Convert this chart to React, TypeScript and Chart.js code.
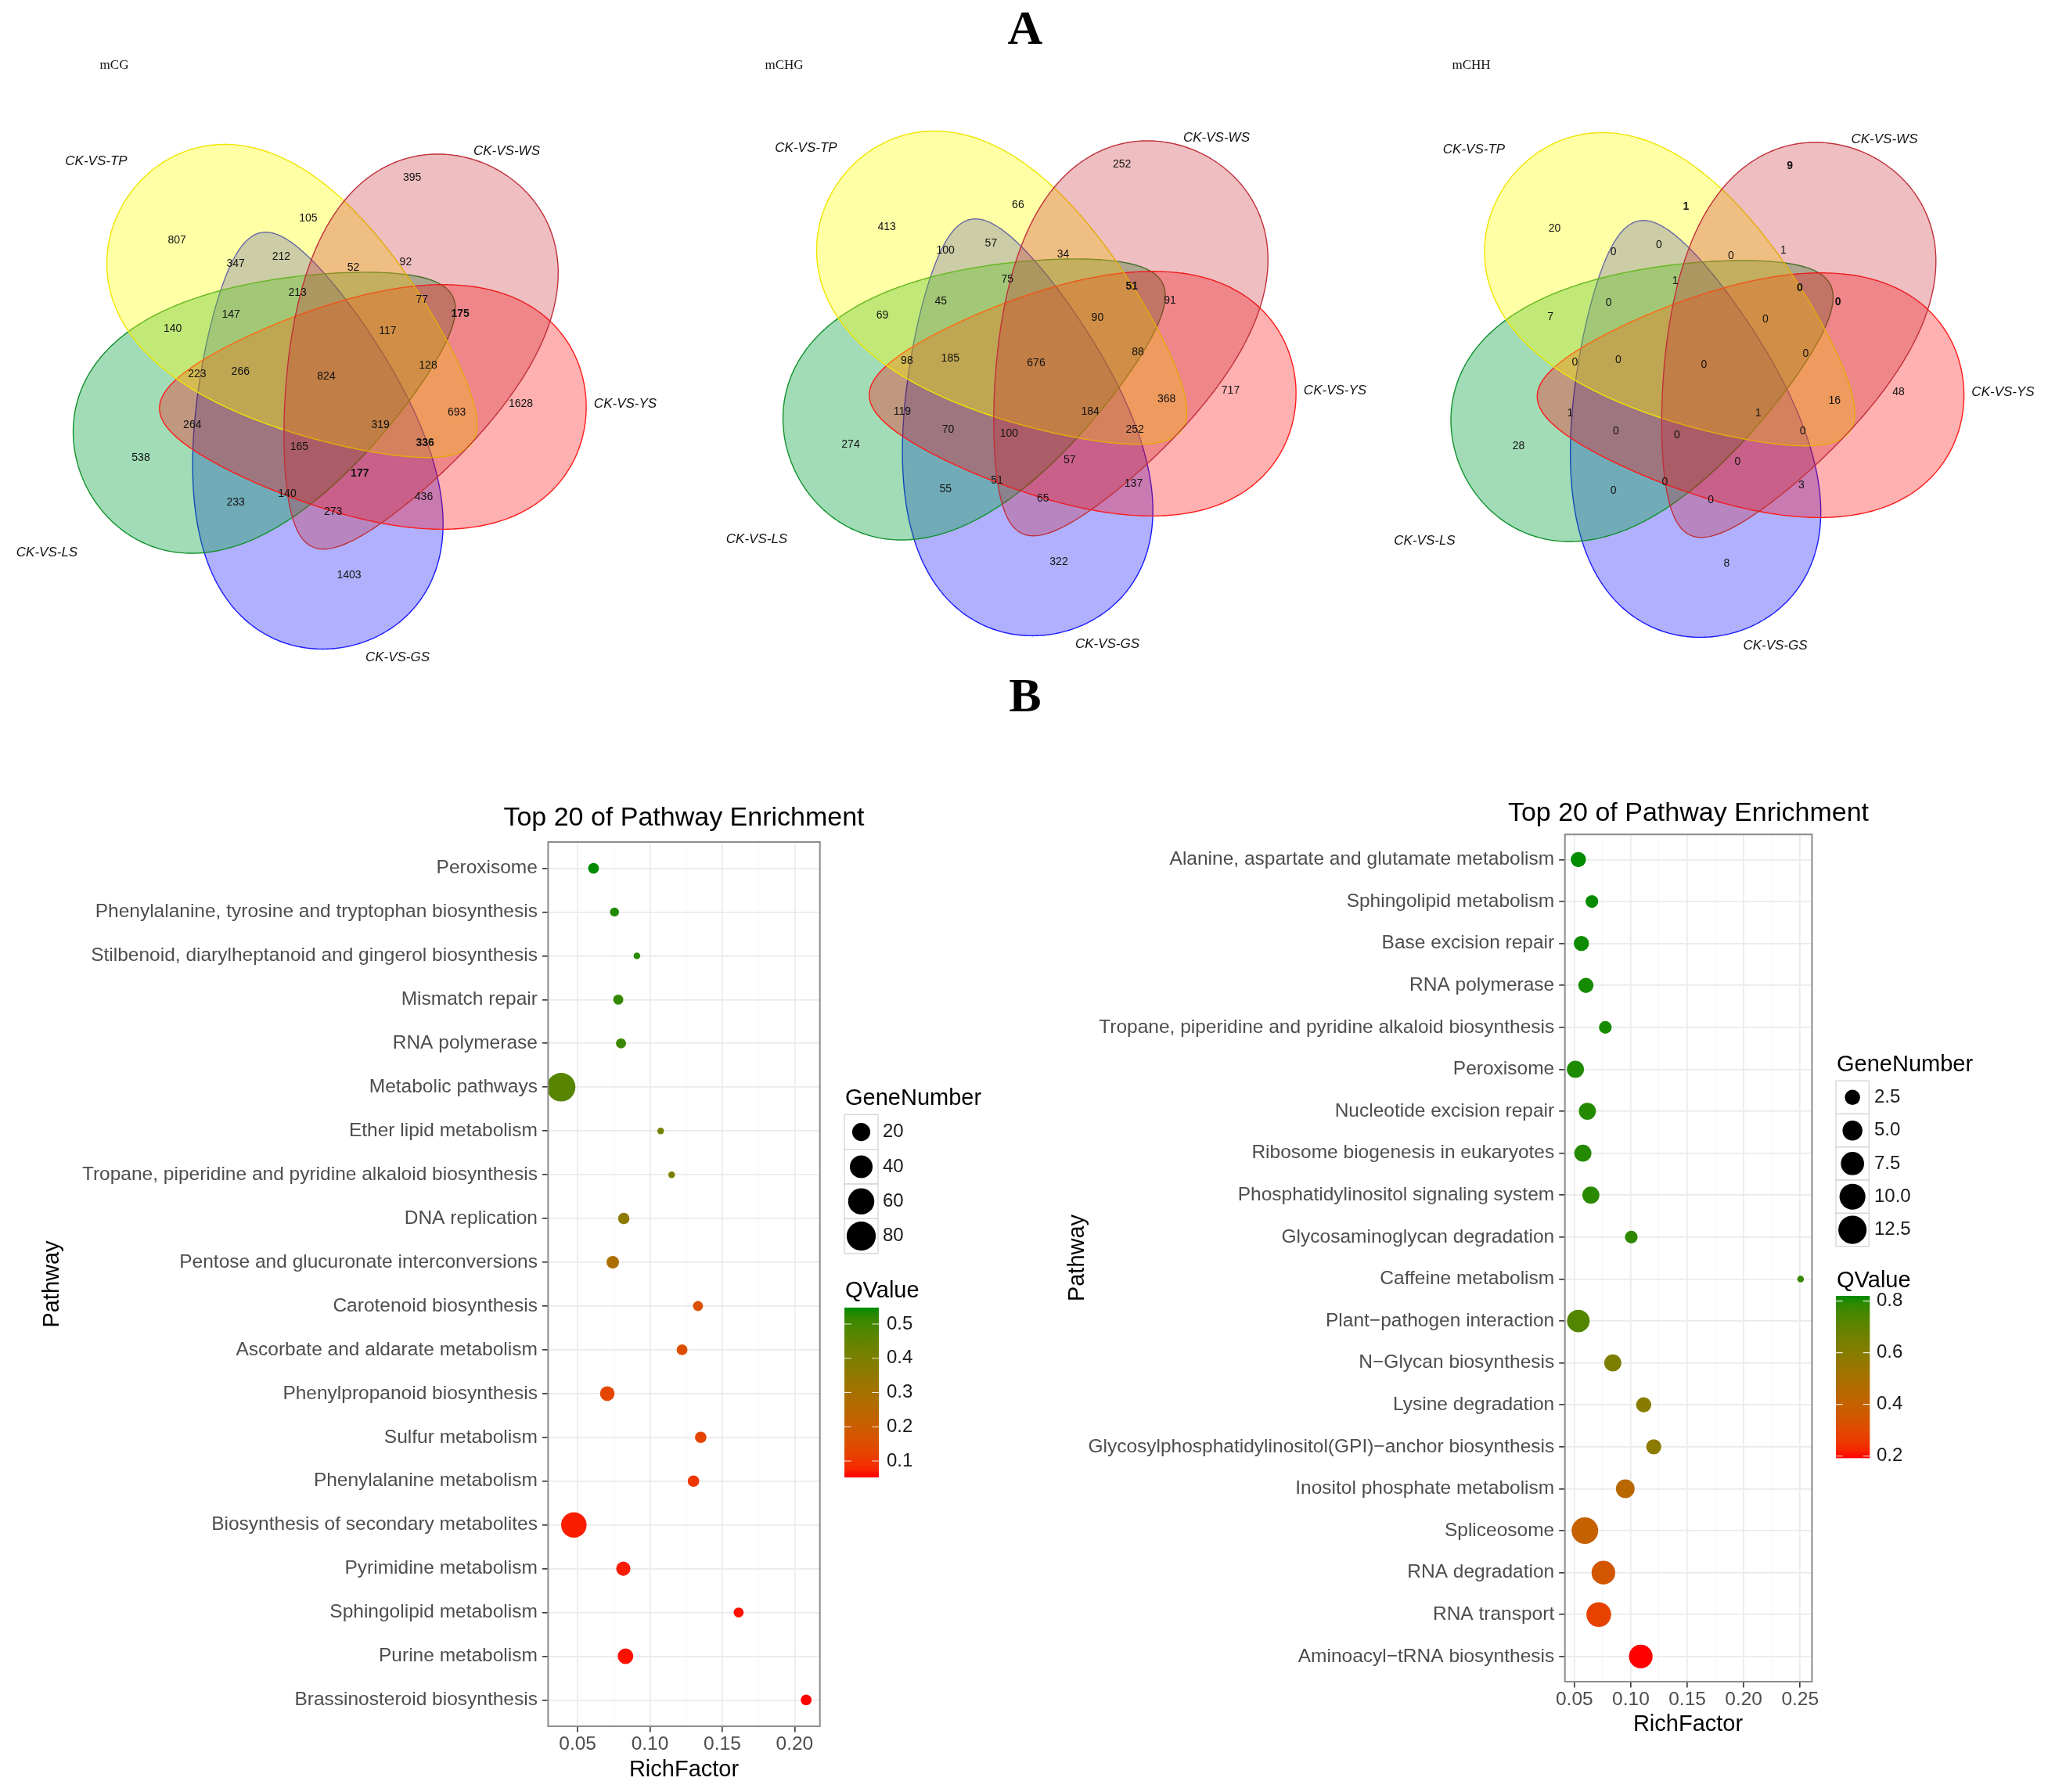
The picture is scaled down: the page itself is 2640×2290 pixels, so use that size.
import React, { useEffect, useRef } from 'react';
import { Chart, registerables } from 'chart.js';

Chart.register(...registerables);

const SANS = '"Liberation Sans", Arial, Helvetica, sans-serif';
const SERIF = '"Liberation Serif", "Times New Roman", Times, serif';

/* ------------------------------------------------------------------ */
/* Panel A : five-set Venn diagrams                                    */
/* ------------------------------------------------------------------ */
const SET_NAMES = ['CK-VS-TP', 'CK-VS-WS', 'CK-VS-YS', 'CK-VS-LS', 'CK-VS-GS'];
const VENN_TITLES = ['mCG', 'mCHG', 'mCHH'];
const REGION_KEYS = [
  'TP', 'WS', 'YS', 'GS', 'LS',
  'TP&WS', 'TP&GS', 'TP&WS&GS', 'TP&WS&LS', 'WS&LS',
  'TP&WS&GS&LS', 'TP&GS&LS', 'TP&LS', 'WS&LS&YS', 'WS&YS',
  'TP&WS&LS&YS', 'TP&LS&YS', 'TP&LS&YS&GS', 'ALL', 'TP&WS&YS',
  'LS&YS', 'TP&YS', 'TP&WS&YS&GS', 'TP&YS&GS', 'LS&YS&GS',
  'WS&YS&GS&LS', 'WS&YS&GS', 'LS&GS', 'LS&GS&WS', 'WS&GS', 'YS&GS',
];
const MCG_COUNTS = [807, 395, 1628, 1403, 538, 105, 347, 212, 52, 92, 213, 147, 140, 77, 175, 117, 223, 266, 824, 128, 264, 693, 319, 336, null, 165, 177, 233, 140, 273, 436];
const MCHG_COUNTS = [413, 252, 717, 322, 274, 66, 100, 57, 34, null, 75, 45, 69, 51, 91, 90, 98, 185, 676, 88, 119, 368, 184, 252, 70, 100, 57, 55, 51, 65, 137];
const MCHH_COUNTS = [20, 9, 48, 8, 28, 1, 0, 0, 0, 1, 1, 0, 7, 0, 0, 0, 0, 0, 0, 0, 1, 16, 1, 0, 0, 0, 0, 0, 0, 0, 3];
const MCG_BOLD = [14, 23, 26];
const MCHG_BOLD = [13];
const MCHH_BOLD = [1, 5, 13, 14];

/* Venn layout (pixels) */
const TOP_W = 2640;
const TOP_H = 930;
const VENN_CENTERS = [[423, 486], [1330, 469], [2183.5, 471]];
const VENN_TITLE_POS = [[146, 84], [1002, 84], [1880, 84]];
const REGION_OFFSETS = [
  [-196.9, -179], [103.7, -258.7], [242.5, 29.7], [23, 249.2], [-243, 99.3],
  [-29.1, -207.1], [-121.8, -148.7], [-63.6, -158.2], [28.5, -143.7], [95.4, -151],
  [-42.8, -111.7], [-127.8, -83.6], [-202.4, -65.7], [116.3, -102.7], [165.1, -85.3],
  [72.4, -62.9], [-171.1, -7.9], [-115.7, -10.7], [-6, -5.1], [124, -18.5],
  [-177.2, 56.7], [160.7, 41], [63.1, 56.7], [120.1, 79.7], [-118.5, 79.7],
  [-40.6, 85.3], [36.8, 119.5], [-121.8, 156.6], [-56, 145.3], [2.7, 167.8], [118.5, 148.7],
];
const SET_LABEL_OFFSETS = [[-300, -280], [224.5, -292.4], [376, 30.3], [-363, 220], [85, 354]];
// egg shapes: narrow tip and round end relative to the venn centre (order TP, WS, YS, LS, GS)
const EGGS = [
  { tip: [179.8, 80.8], end: [-256.5, -239.1] },
  { tip: [-24, 212.7], end: [202, -274.4] },
  { tip: [-219.2, 35.9], end: [326.1, 33.1] },
  { tip: [155, -108], end: [-310.8, 139.4] },
  { tip: [-90, -188.6], end: [22, 340] },
];
const EGG_DRAW_ORDER = [4, 3, 2, 0, 1];
const EGG_R = 146;
const EGG_A = 0.4;
const EGG_B = 0.02;
const SET_FILL = ['rgba(255,255,0,0.35)', 'rgba(200,30,40,0.29)', 'rgba(255,0,0,0.31)', 'rgba(0,160,60,0.37)', 'rgba(0,0,255,0.31)'];
const SET_STROKE = ['#F0E400', '#C0303A', '#FF1A1A', '#12922E', '#1A1AFF'];

/* ------------------------------------------------------------------ */
/* Panel B : KEGG enrichment bubble charts                             */
/* ------------------------------------------------------------------ */
const LEFT_PATHWAYS = [
  'Peroxisome',
  'Phenylalanine, tyrosine and tryptophan biosynthesis',
  'Stilbenoid, diarylheptanoid and gingerol biosynthesis',
  'Mismatch repair',
  'RNA polymerase',
  'Metabolic pathways',
  'Ether lipid metabolism',
  'Tropane, piperidine and pyridine alkaloid biosynthesis',
  'DNA replication',
  'Pentose and glucuronate interconversions',
  'Carotenoid biosynthesis',
  'Ascorbate and aldarate metabolism',
  'Phenylpropanoid biosynthesis',
  'Sulfur metabolism',
  'Phenylalanine metabolism',
  'Biosynthesis of secondary metabolites',
  'Pyrimidine metabolism',
  'Sphingolipid metabolism',
  'Purine metabolism',
  'Brassinosteroid biosynthesis',
];
const LEFT_RICH = [0.061, 0.0755, 0.091, 0.0781, 0.080, 0.0386, 0.1074, 0.115, 0.0819, 0.0743, 0.1332, 0.1222, 0.0705, 0.1351, 0.1301, 0.0474, 0.0816, 0.1613, 0.0831, 0.208];
const LEFT_GENES = [5, 3, 2, 4, 4, 85, 2, 2, 6, 8, 4, 5, 13, 6, 6, 63, 12, 4, 16, 5];
const LEFT_QVALUE = [0.548, 0.535, 0.53, 0.52, 0.51, 0.47, 0.41, 0.40, 0.36, 0.28, 0.16, 0.15, 0.13, 0.13, 0.10, 0.068, 0.065, 0.06, 0.058, 0.052];
const LEFT_X_TICKS = [0.05, 0.10, 0.15, 0.20];
const LEFT_SIZE_BREAKS = [20, 40, 60, 80];
const LEFT_Q_BREAKS = [0.1, 0.2, 0.3, 0.4, 0.5];

const RIGHT_PATHWAYS = [
  'Alanine, aspartate and glutamate metabolism',
  'Sphingolipid metabolism',
  'Base excision repair',
  'RNA polymerase',
  'Tropane, piperidine and pyridine alkaloid biosynthesis',
  'Peroxisome',
  'Nucleotide excision repair',
  'Ribosome biogenesis in eukaryotes',
  'Phosphatidylinositol signaling system',
  'Glycosaminoglycan degradation',
  'Caffeine metabolism',
  'Plant\u2212pathogen interaction',
  'N\u2212Glycan biosynthesis',
  'Lysine degradation',
  'Glycosylphosphatidylinositol(GPI)\u2212anchor biosynthesis',
  'Inositol phosphate metabolism',
  'Spliceosome',
  'RNA degradation',
  'RNA transport',
  'Aminoacyl\u2212tRNA biosynthesis',
];
const RIGHT_RICH = [0.0535, 0.0655, 0.0562, 0.0602, 0.0774, 0.0509, 0.0615, 0.0575, 0.0646, 0.1004, 0.2504, 0.0535, 0.084, 0.1114, 0.1203, 0.0951, 0.0593, 0.0757, 0.0716, 0.1088];
const RIGHT_GENES = [3, 2, 3, 3, 2, 4, 4, 4, 4, 2, 1, 8, 4, 3, 3, 5, 12, 9, 10, 9];
const RIGHT_QVALUE = [0.82, 0.818, 0.815, 0.812, 0.81, 0.805, 0.80, 0.80, 0.795, 0.79, 0.78, 0.73, 0.63, 0.60, 0.58, 0.44, 0.40, 0.35, 0.28, 0.192];
const RIGHT_X_TICKS = [0.05, 0.10, 0.15, 0.20, 0.25];
const RIGHT_SIZE_BREAKS = [2.5, 5, 7.5, 10, 12.5];
const RIGHT_Q_BREAKS = [0.2, 0.4, 0.6, 0.8];

const Q_LOW_COLOR = [255, 0, 0];
const Q_HIGH_COLOR = [0, 139, 0];

type Layout = {
  canvasX: number; canvasY: number; width: number; height: number;
  panel: { l: number; r: number; t: number; b: number };
  xRange: [number, number];
  title: [number, number]; xTitle: [number, number]; yTitle: [number, number];
  size: { titleX: number; titleY: number; keyX: number; keyW: number; keyTop: number; keyH: number; labelX: number; digits: number };
  qbar: { titleX: number; titleY: number; barX: number; barW: number; barTop: number; barBottom: number; labelX: number };
  sizeRange: [number, number];
};

const LEFT_LAYOUT: Layout = {
  canvasX: 0, canvasY: 960, width: 1330, height: 1330,
  panel: { l: 700.4, r: 1047.7, t: 1076, b: 2206 },
  xRange: [0.0296, 0.2175],
  title: [874, 1045.5], xTitle: [874, 2262], yTitle: [66.7, 1641],
  size: { titleX: 1080, titleY: 1403.6, keyX: 1079, keyW: 43, keyTop: 1424.4, keyH: 44.35, labelX: 1128, digits: 0 },
  qbar: { titleX: 1080, titleY: 1650, barX: 1079, barW: 44, barTop: 1671, barBottom: 1888, labelX: 1133 },
  sizeRange: [8.5, 36.5],
};
const RIGHT_LAYOUT: Layout = {
  canvasX: 1330, canvasY: 960, width: 1310, height: 1330,
  panel: { l: 1999.7, r: 2315.4, t: 1066.3, b: 2149 },
  xRange: [0.0416, 0.2605],
  title: [2157.5, 1039.4], xTitle: [2157, 2204], yTitle: [1377, 1607.5],
  size: { titleX: 2347, titleY: 1361.3, keyX: 2346, keyW: 42.3, keyTop: 1381.2, keyH: 42.3, labelX: 2395, digits: 1 },
  qbar: { titleX: 2347, titleY: 1636.9, barX: 2346, barW: 43.3, barTop: 1656, barBottom: 1863.4, labelX: 2398 },
  sizeRange: [8.5, 34],
};

/* ------------------------------------------------------------------ */
/* helpers                                                             */
/* ------------------------------------------------------------------ */
function lin(c: number) { const v = c / 255; return v <= 0.04045 ? v / 12.92 : Math.pow((v + 0.055) / 1.055, 2.4); }
function unlin(v: number) { const c = Math.min(1, Math.max(0, v)); const s = c <= 0.0031308 ? 12.92 * c : 1.055 * Math.pow(c, 1 / 2.4) - 0.055; return Math.round(s * 255); }
function toLab(rgb: number[]) {
  const [r, g, b] = rgb.map(lin);
  const X = (0.4124 * r + 0.3576 * g + 0.1805 * b) / 0.95047;
  const Y = 0.2126 * r + 0.7152 * g + 0.0722 * b;
  const Z = (0.0193 * r + 0.1192 * g + 0.9505 * b) / 1.08883;
  const f = (t: number) => (t > 216 / 24389 ? Math.cbrt(t) : ((24389 / 27) * t + 16) / 116);
  const fx = f(X), fy = f(Y), fz = f(Z);
  return [116 * fy - 16, 500 * (fx - fy), 200 * (fy - fz)];
}
function fromLab(lab: number[]) {
  const [L, a, b] = lab;
  const fy = (L + 16) / 116, fx = fy + a / 500, fz = fy - b / 200;
  const inv = (t: number) => (t * t * t > 216 / 24389 ? t * t * t : (116 * t - 16) / (24389 / 27));
  const X = inv(fx) * 0.95047, Y = inv(fy), Z = inv(fz) * 1.08883;
  const r = 3.2406 * X - 1.5372 * Y - 0.4986 * Z;
  const g = -0.9689 * X + 1.8758 * Y + 0.0415 * Z;
  const bb = 0.0557 * X - 0.204 * Y + 1.057 * Z;
  return [unlin(r), unlin(g), unlin(bb)];
}
const LAB_LO = toLab(Q_LOW_COLOR);
const LAB_HI = toLab(Q_HIGH_COLOR);
function gradientColor(t: number) {
  const u = Math.min(1, Math.max(0, t));
  const [r, g, b] = fromLab(LAB_LO.map((v, i) => v + (LAB_HI[i] - v) * u));
  return `rgb(${r},${g},${b})`;
}

function drawText(
  ctx: CanvasRenderingContext2D, str: string, x: number, y: number, size: number,
  o: { family?: string; weight?: string; style?: string; color?: string; align?: CanvasTextAlign } = {},
) {
  ctx.font = `${o.style || 'normal'} ${o.weight || 'normal'} ${size}px ${o.family || SANS}`;
  ctx.fillStyle = o.color || '#000';
  ctx.textAlign = o.align || 'center';
  ctx.textBaseline = 'middle';
  ctx.fillText(str, x, y);
}

/* ------------------------------------------------------------------ */
/* Venn chart                                                          */
/* ------------------------------------------------------------------ */
function traceEgg(ctx: CanvasRenderingContext2D, xs: any, ys: any, cx: number, cy: number, egg: { tip: number[]; end: number[] }) {
  const [tx, ty] = egg.tip;
  const [ex, ey] = egg.end;
  const mx = (tx + ex) / 2, my = (ty + ey) / 2;
  const half = Math.hypot(ex - tx, ey - ty) / 2;
  const ux = (ex - tx) / (2 * half), uy = (ey - ty) / (2 * half);
  const nx = -uy, ny = ux;
  const N = 220;
  ctx.beginPath();
  for (let i = 0; i <= 2 * N; i++) {
    const th = (i / N) * Math.PI;
    const u = Math.cos(th);
    const side = i <= N ? 1 : -1;
    const h = EGG_R * Math.sqrt(Math.max(0, 1 - u * u)) * (1 + EGG_A * u + EGG_B * u * u);
    const X = cx + mx + ux * u * half + nx * side * h;
    const Y = cy + my + uy * u * half + ny * side * h;
    const px = xs.getPixelForValue(X), py = ys.getPixelForValue(Y);
    if (i === 0) ctx.moveTo(px, py); else ctx.lineTo(px, py);
  }
  ctx.closePath();
}

const VENN_COUNTS = [MCG_COUNTS, MCHG_COUNTS, MCHH_COUNTS];
const VENN_BOLD = [MCG_BOLD, MCHG_BOLD, MCHH_BOLD];

function makeVenn(canvas: HTMLCanvasElement) {
  const vennPlugin = {
    id: 'venn',
    beforeDatasetsDraw(chart: any) {
      const ctx = chart.ctx as CanvasRenderingContext2D;
      const xs = chart.scales.x, ys = chart.scales.y;
      ctx.save();
      VENN_CENTERS.forEach(([cx, cy]) => {
        EGG_DRAW_ORDER.forEach((si) => {
          traceEgg(ctx, xs, ys, cx, cy, EGGS[si]);
          ctx.fillStyle = SET_FILL[si];
          ctx.fill();
          ctx.strokeStyle = SET_STROKE[si];
          ctx.lineWidth = 1.4;
          ctx.stroke();
        });
      });
      ctx.restore();
    },
    afterDatasetsDraw(chart: any) {
      const ctx = chart.ctx as CanvasRenderingContext2D;
      const xs = chart.scales.x, ys = chart.scales.y;
      ctx.save();
      VENN_CENTERS.forEach(([cx, cy], vi) => {
        const meta = chart.getDatasetMeta(vi);
        meta.data.forEach((el: any, i: number) => {
          const v = VENN_COUNTS[vi][i];
          if (v === null || v === undefined) return;
          const bold = VENN_BOLD[vi].includes(i);
          drawText(ctx, String(v), el.x, el.y, 14, { weight: bold ? 'bold' : 'normal', color: '#111' });
        });
        SET_NAMES.forEach((name, si) => {
          const [dx, dy] = SET_LABEL_OFFSETS[si];
          drawText(ctx, name, xs.getPixelForValue(cx + dx), ys.getPixelForValue(cy + dy), 17, { style: 'italic', color: '#111' });
        });
        const [tx, ty] = VENN_TITLE_POS[vi];
        drawText(ctx, VENN_TITLES[vi], xs.getPixelForValue(tx), ys.getPixelForValue(ty), 17, { family: SERIF, color: '#111' });
      });
      drawText(ctx, 'A', xs.getPixelForValue(1310), ys.getPixelForValue(40), 62, { family: SERIF, weight: 'bold' });
      drawText(ctx, 'B', xs.getPixelForValue(1310), ys.getPixelForValue(893), 62, { family: SERIF, weight: 'bold' });
      ctx.restore();
    },
  };

  return new Chart(canvas, {
    type: 'scatter',
    data: {
      datasets: VENN_CENTERS.map(([cx, cy], vi) => ({
        label: VENN_TITLES[vi],
        data: REGION_KEYS.map((_, i) => ({ x: cx + REGION_OFFSETS[i][0], y: cy + REGION_OFFSETS[i][1] })),
        pointRadius: 0,
        pointHoverRadius: 0,
      })),
    },
    options: {
      animation: false,
      responsive: false,
      devicePixelRatio: 1,
      events: [],
      layout: { padding: 0 },
      plugins: { legend: { display: false }, tooltip: { enabled: false } },
      scales: {
        x: { type: 'linear', display: false, min: 0, max: TOP_W },
        y: { type: 'linear', display: false, min: 0, max: TOP_H, reverse: true },
      },
    },
    plugins: [vennPlugin],
  } as any);
}

/* ------------------------------------------------------------------ */
/* Bubble charts                                                       */
/* ------------------------------------------------------------------ */
type BubbleCfg = {
  layout: Layout;
  pathways: string[]; rich: number[]; genes: number[]; q: number[];
  xTicks: number[]; sizeBreaks: number[]; qBreaks: number[];
};

function makeBubble(canvas: HTMLCanvasElement, cfg: BubbleCfg) {
  const L = cfg.layout;
  const ox = L.canvasX, oy = L.canvasY;
  const gLo = Math.min(...cfg.genes), gHi = Math.max(...cfg.genes);
  const radius = (v: number) =>
    (L.sizeRange[0] + (L.sizeRange[1] - L.sizeRange[0]) * Math.sqrt(Math.max(0, v - gLo) / (gHi - gLo))) / 2;
  const qLo = Math.min(...cfg.q), qHi = Math.max(...cfg.q);
  const colorOf = (q: number) => gradientColor((q - qLo) / (qHi - qLo));

  const step = cfg.xTicks[1] - cfg.xTicks[0];
  const isMajor = (v: number) => cfg.xTicks.some((t) => Math.abs(t - v) < 1e-9);
  const allTicks: number[] = [];
  cfg.xTicks.forEach((t) => allTicks.push(t));
  for (let i = -1; i < cfg.xTicks.length; i++) {
    const m = (i < 0 ? cfg.xTicks[0] - step : cfg.xTicks[i]) + step / 2;
    if (m > L.xRange[0] && m < L.xRange[1]) allTicks.push(m);
  }
  allTicks.sort((a, b) => a - b);

  const decor = {
    id: 'decor',
    afterDraw(chart: any) {
      const ctx = chart.ctx as CanvasRenderingContext2D;
      const a = chart.chartArea;
      ctx.save();
      ctx.strokeStyle = '#8C8C8C';
      ctx.lineWidth = 2;
      ctx.strokeRect(a.left, a.top, a.right - a.left, a.bottom - a.top);

      drawText(ctx, 'Top 20 of Pathway Enrichment', L.title[0] - ox, L.title[1] - oy, 34);
      drawText(ctx, 'RichFactor', L.xTitle[0] - ox, L.xTitle[1] - oy, 29);
      ctx.save();
      ctx.translate(L.yTitle[0] - ox, L.yTitle[1] - oy);
      ctx.rotate(-Math.PI / 2);
      drawText(ctx, 'Pathway', 0, 0, 29);
      ctx.restore();

      // size legend
      const S = L.size;
      drawText(ctx, 'GeneNumber', S.titleX - ox, S.titleY - oy, 29, { align: 'left' });
      cfg.sizeBreaks.forEach((v, i) => {
        const top = S.keyTop - oy + i * S.keyH;
        const left = S.keyX - ox;
        ctx.fillStyle = '#fff';
        ctx.fillRect(left, top, S.keyW, S.keyH);
        ctx.strokeStyle = '#D4D4D4';
        ctx.lineWidth = 1.3;
        ctx.strokeRect(left, top, S.keyW, S.keyH);
        ctx.beginPath();
        ctx.arc(left + S.keyW / 2, top + S.keyH / 2, radius(v) + 0.8, 0, Math.PI * 2);
        ctx.fillStyle = '#000';
        ctx.fill();
        drawText(ctx, v.toFixed(S.digits), S.labelX - ox, top + S.keyH / 2, 24, { align: 'left', color: '#1A1A1A' });
      });

      // colour bar
      const Q = L.qbar;
      drawText(ctx, 'QValue', Q.titleX - ox, Q.titleY - oy, 29, { align: 'left' });
      const bt = Q.barTop - oy, bb = Q.barBottom - oy, bx = Q.barX - ox;
      const grad = ctx.createLinearGradient(0, bb, 0, bt);
      for (let s = 0; s <= 20; s++) grad.addColorStop(s / 20, gradientColor(s / 20));
      ctx.fillStyle = grad;
      ctx.fillRect(bx, bt, Q.barW, bb - bt);
      const qy = (q: number) => bb - ((q - qLo) / (qHi - qLo)) * (bb - bt);
      cfg.qBreaks.forEach((q) => {
        const y = qy(q);
        ctx.strokeStyle = 'rgba(255,255,255,0.85)';
        ctx.lineWidth = 1.2;
        ctx.beginPath();
        ctx.moveTo(bx, y); ctx.lineTo(bx + Q.barW * 0.2, y);
        ctx.moveTo(bx + Q.barW * 0.8, y); ctx.lineTo(bx + Q.barW, y);
        ctx.stroke();
        drawText(ctx, q.toFixed(1), Q.labelX - ox, y, 24, { align: 'left', color: '#1A1A1A' });
      });
      ctx.restore();
    },
  };

  return new Chart(canvas, {
    type: 'bubble',
    data: {
      datasets: [{
        data: cfg.rich.map((x, i) => ({ x, y: i + 1, r: radius(cfg.genes[i]) })),
        backgroundColor: cfg.q.map(colorOf),
        borderWidth: 0,
        hoverBorderWidth: 0,
        hoverRadius: 0,
      }],
    },
    options: {
      animation: false,
      responsive: false,
      devicePixelRatio: 1,
      events: [],
      layout: { padding: { left: 0, top: L.panel.t - oy, right: L.width - (L.panel.r - ox), bottom: 0 } },
      plugins: { legend: { display: false }, tooltip: { enabled: false }, title: { display: false } },
      scales: {
        x: {
          type: 'linear',
          position: 'bottom',
          min: L.xRange[0],
          max: L.xRange[1],
          afterBuildTicks: (s: any) => { s.ticks = allTicks.map((v) => ({ value: v })); },
          afterFit: (s: any) => { s.height = L.height - (L.panel.b - oy); },
          border: { display: false },
          grid: {
            color: (c: any) => (c.tick && isMajor(c.tick.value) ? '#EBEBEB' : '#F5F5F5'),
            lineWidth: (c: any) => (c.tick && isMajor(c.tick.value) ? 1.7 : 0.9),
            tickColor: (c: any) => (c.tick && isMajor(c.tick.value) ? '#333' : 'rgba(0,0,0,0)'),
            tickLength: 7.5,
            tickWidth: 1.6,
            drawTicks: true,
          },
          ticks: {
            autoSkip: false,
            maxRotation: 0,
            minRotation: 0,
            padding: 1,
            color: '#4D4D4D',
            font: { family: SANS, size: 24.5 },
            callback: (v: any) => (isMajor(Number(v)) ? Number(v).toFixed(2) : ''),
          },
        },
        y: {
          type: 'linear',
          position: 'left',
          reverse: true,
          min: 0.4,
          max: cfg.pathways.length + 0.6,
          afterBuildTicks: (s: any) => { s.ticks = cfg.pathways.map((_, i) => ({ value: i + 1 })); },
          afterFit: (s: any) => { s.width = L.panel.l - ox; },
          border: { display: false },
          grid: { color: '#EBEBEB', lineWidth: 1.7, tickColor: '#333', tickLength: 7.5, tickWidth: 1.6, drawTicks: true },
          ticks: {
            autoSkip: false,
            padding: 6,
            color: '#4D4D4D',
            font: { family: SANS, size: 24.5 },
            callback: (v: any) => cfg.pathways[Math.round(Number(v)) - 1] ?? '',
          },
        },
      },
    },
    plugins: [decor],
  } as any);
}

export default function App() {
  const topRef = useRef<HTMLCanvasElement>(null);
  const leftRef = useRef<HTMLCanvasElement>(null);
  const rightRef = useRef<HTMLCanvasElement>(null);

  useEffect(() => {
    const charts: Chart[] = [];
    if (topRef.current) charts.push(makeVenn(topRef.current));
    if (leftRef.current) {
      charts.push(makeBubble(leftRef.current, {
        layout: LEFT_LAYOUT, pathways: LEFT_PATHWAYS, rich: LEFT_RICH, genes: LEFT_GENES, q: LEFT_QVALUE,
        xTicks: LEFT_X_TICKS, sizeBreaks: LEFT_SIZE_BREAKS, qBreaks: LEFT_Q_BREAKS,
      }));
    }
    if (rightRef.current) {
      charts.push(makeBubble(rightRef.current, {
        layout: RIGHT_LAYOUT, pathways: RIGHT_PATHWAYS, rich: RIGHT_RICH, genes: RIGHT_GENES, q: RIGHT_QVALUE,
        xTicks: RIGHT_X_TICKS, sizeBreaks: RIGHT_SIZE_BREAKS, qBreaks: RIGHT_Q_BREAKS,
      }));
    }
    return () => charts.forEach((c) => c.destroy());
  }, []);

  return (
    <div style={{ position: 'absolute', left: 0, top: 0, width: 2640, height: 2290, background: '#fff', overflow: 'hidden' }}>
      <canvas ref={topRef} width={TOP_W} height={TOP_H} style={{ position: 'absolute', left: 0, top: 0, width: TOP_W, height: TOP_H }} />
      <canvas ref={leftRef} width={LEFT_LAYOUT.width} height={LEFT_LAYOUT.height}
        style={{ position: 'absolute', left: LEFT_LAYOUT.canvasX, top: LEFT_LAYOUT.canvasY, width: LEFT_LAYOUT.width, height: LEFT_LAYOUT.height }} />
      <canvas ref={rightRef} width={RIGHT_LAYOUT.width} height={RIGHT_LAYOUT.height}
        style={{ position: 'absolute', left: RIGHT_LAYOUT.canvasX, top: RIGHT_LAYOUT.canvasY, width: RIGHT_LAYOUT.width, height: RIGHT_LAYOUT.height }} />
    </div>
  );
}
